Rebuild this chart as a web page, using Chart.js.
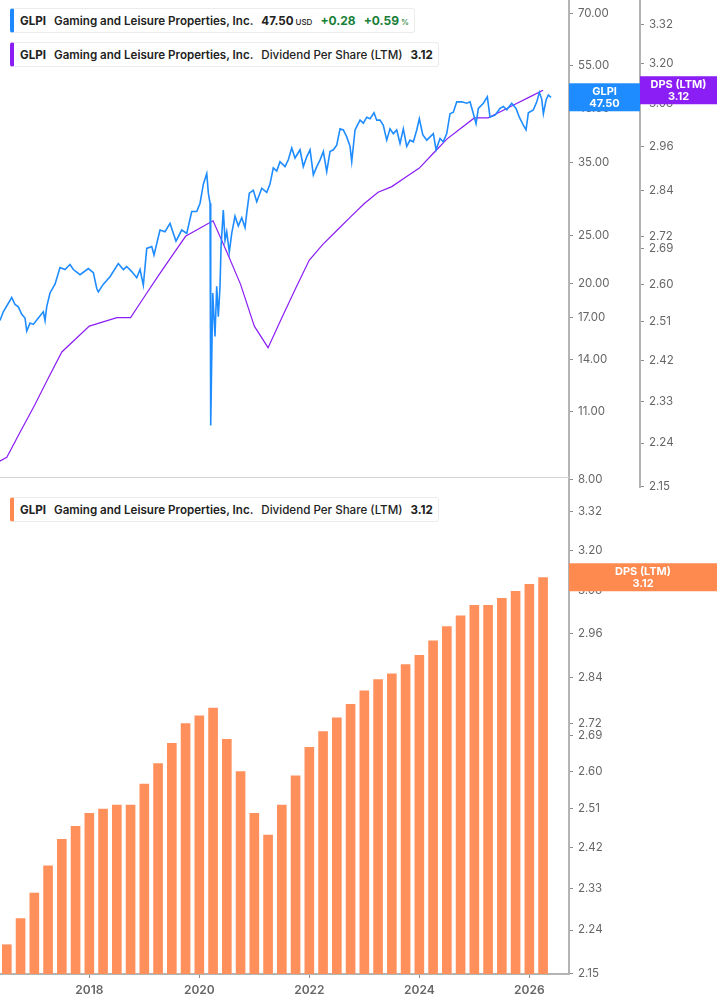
<!DOCTYPE html>
<html>
<head>
<meta charset="utf-8">
<title>GLPI - Dividend Per Share (LTM)</title>
<script src="https://cdn.jsdelivr.net/npm/chart.js@4.4.1/dist/chart.umd.min.js"></script>
<style>
  html, body { margin: 0; padding: 0; background: #fff; }
  body { width: 717px; height: 1005px; position: relative; overflow: hidden; font-family: Inter, 'Noto Sans', sans-serif; }
  canvas { position: absolute; left: 0; }
  #topChart { top: 0; }
  #bottomChart { top: 487px; }
  .sep { position: absolute; left: 0; top: 477px; width: 569px; height: 1px; background: #d4d4d4; }
  .legend {
    position: absolute; left: 10px; height: 25px; box-sizing: border-box;
    background: #fff; border: 1px solid #ececec; border-left: 4px solid; border-radius: 3px;
    display: flex; align-items: center; padding: 0 5px 0 6px;
    font-size: 11.6px; color: #222; white-space: nowrap; z-index: 2;
  }
  .legend span { margin-right: 8px; }
  .legend span:last-child { margin-right: 0; }
  .tk { font-weight: 700; }
  .nm { font-weight: 600; }
  .mt { font-weight: 500; }
  .vl { font-weight: 700; }
  .up { color: #188038; font-weight: 700; font-size: 12px; }
  small { font-size: 8px; font-weight: 500; margin-left: 2px; }
</style>
</head>
<body>

<div class="legend" style="top:8px; border-left-color:#1e88ff;">
  <span class="tk">GLPI</span>
  <span class="nm">Gaming and Leisure Properties, Inc.</span>
  <span class="vl">47.50<small>USD</small></span>
  <span class="up">+0.28</span>
  <span class="up">+0.59<small>%</small></span>
</div>
<div class="legend" style="top:42px; border-left-color:#8b1df5;">
  <span class="tk">GLPI</span>
  <span class="nm">Gaming and Leisure Properties, Inc.</span>
  <span class="mt">Dividend Per Share (LTM)</span>
  <span class="vl">3.12</span>
</div>
<div class="legend" style="top:497px; border-left-color:#ff8a4f;">
  <span class="tk">GLPI</span>
  <span class="nm">Gaming and Leisure Properties, Inc.</span>
  <span class="mt">Dividend Per Share (LTM)</span>
  <span class="vl">3.12</span>
</div>

<canvas id="topChart" width="717" height="500"></canvas>
<div class="sep"></div>
<canvas id="bottomChart" width="717" height="518"></canvas>

<script>
/* ── data ── */
// quarter ends (YYYY-MM) and LTM dividend per share
const dpsQuarters = [
  '2016-03','2016-06','2016-09','2016-12',
  '2017-03','2017-06','2017-09','2017-12',
  '2018-03','2018-06','2018-09','2018-12',
  '2019-03','2019-06','2019-09','2019-12',
  '2020-03','2020-06','2020-09','2020-12',
  '2021-03','2021-06','2021-09','2021-12',
  '2022-03','2022-06','2022-09','2022-12',
  '2023-03','2023-06','2023-09','2023-12',
  '2024-03','2024-06','2024-09','2024-12',
  '2025-03','2025-06','2025-09','2025-12',
  '2026-03'
];
const dpsValues = [
  2.195, 2.21, 2.265, 2.32,
  2.38, 2.44, 2.47, 2.50,
  2.51, 2.52, 2.52, 2.57,
  2.62, 2.67, 2.72, 2.74,
  2.76, 2.68, 2.60, 2.50,
  2.45, 2.52, 2.59, 2.66,
  2.70, 2.735, 2.77, 2.805,
  2.835, 2.85, 2.875, 2.90,
  2.94, 2.98, 3.01, 3.04,
  3.04, 3.06, 3.08, 3.10,
  3.12
];

// share price (USD), dates as decimal years
const priceYears = [
  2016.376, 2016.436, 2016.589, 2016.649, 2016.709, 2016.771, 2016.831, 2016.862, 2016.922, 2016.982,
  2017.073, 2017.164, 2017.195, 2017.225, 2017.285, 2017.376, 2017.467, 2017.558, 2017.649, 2017.709,
  2017.831, 2017.982, 2018.073, 2018.135, 2018.164, 2018.255, 2018.376, 2018.527, 2018.618, 2018.680,
  2018.771, 2018.862, 2018.922, 2018.982, 2019.044, 2019.135, 2019.176, 2019.285, 2019.376, 2019.467,
  2019.576, 2019.680, 2019.771, 2019.862, 2019.953, 2020.013, 2020.073, 2020.135, 2020.164, 2020.195,
  2020.207, 2020.244, 2020.285, 2020.316, 2020.345, 2020.376, 2020.395, 2020.436, 2020.467, 2020.498,
  2020.545, 2020.589, 2020.649, 2020.709, 2020.771, 2020.831, 2020.862, 2020.909, 2020.982, 2021.044,
  2021.135, 2021.225, 2021.285, 2021.345, 2021.407, 2021.467, 2021.558, 2021.618, 2021.680, 2021.740,
  2021.831, 2021.891, 2021.953, 2022.013, 2022.073, 2022.135, 2022.195, 2022.255, 2022.316, 2022.376,
  2022.436, 2022.498, 2022.558, 2022.618, 2022.680, 2022.740, 2022.771, 2022.831, 2022.922, 2022.982,
  2023.044, 2023.104, 2023.176, 2023.225, 2023.285, 2023.345, 2023.407, 2023.467, 2023.527, 2023.589,
  2023.649, 2023.709, 2023.771, 2023.831, 2023.891, 2023.953, 2024.000, 2024.062, 2024.135, 2024.195,
  2024.255, 2024.304, 2024.376, 2024.436, 2024.498, 2024.558, 2024.618, 2024.680, 2024.771, 2024.862,
  2024.922, 2024.982, 2025.031, 2025.073, 2025.164, 2025.236, 2025.285, 2025.376, 2025.467, 2025.527,
  2025.589, 2025.680, 2025.758, 2025.818, 2025.891, 2025.940, 2025.982, 2026.073, 2026.135, 2026.182,
  2026.225, 2026.255, 2026.304, 2026.345, 2026.395
];
const priceClose = [
  16.8, 17.5, 18.7, 18.1, 17.9, 17.3, 17.0, 16.0, 16.6, 16.5,
  17.0, 17.5, 16.8, 17.9, 19.1, 19.9, 21.5, 21.3, 21.8, 21.3,
  20.8, 21.4, 21.0, 19.5, 19.2, 19.9, 20.6, 21.9, 21.3, 21.6,
  21.1, 20.5, 21.3, 19.8, 23.5, 23.7, 22.8, 25.6, 25.4, 26.4,
  24.3, 25.6, 25.2, 27.9, 27.9, 29.0, 31.7, 33.3, 30.4, 29.0,
  10.3, 19.1, 15.6, 19.7, 17.1, 19.7, 23.7, 28.1, 24.4, 25.4,
  23.1, 25.2, 27.3, 26.1, 27.1, 25.9, 27.7, 30.4, 30.8, 29.2,
  31.1, 30.5, 31.7, 34.2, 33.7, 35.2, 34.4, 35.5, 37.5, 35.8,
  37.2, 34.4, 36.0, 37.2, 33.1, 34.4, 35.5, 36.9, 33.6, 36.9,
  37.2, 38.0, 41.0, 40.8, 39.5, 37.8, 35.2, 40.8, 42.7, 42.1,
  43.3, 43.0, 44.2, 42.7, 42.7, 41.7, 38.9, 41.0, 40.1, 40.8,
  38.3, 41.0, 37.8, 38.9, 38.6, 40.8, 43.0, 39.9, 38.9, 39.5,
  40.1, 37.2, 39.2, 38.6, 40.1, 44.0, 44.3, 46.5, 46.5, 46.2,
  46.5, 44.0, 42.0, 45.1, 46.2, 47.6, 43.3, 43.7, 45.1, 45.5,
  44.8, 46.2, 45.1, 43.3, 41.7, 40.8, 44.2, 44.8, 46.5, 48.6,
  47.1, 44.0, 46.9, 48.0, 47.50
];

const yearTicks  = [2018, 2020, 2022, 2024, 2026];
const priceTicks = [8, 11, 14, 17, 20, 25, 35, 45, 55, 70];
const dpsTicks   = [2.15, 2.24, 2.33, 2.42, 2.51, 2.60, 2.69, 2.72, 2.84, 2.96, 3.08, 3.20, 3.32];

/* ── ranges / styles ── */
const X_MIN = 2016.376, X_MAX = 2026.721;
const PRICE_MIN = 7.739, PRICE_MAX = 74.71;
const DPS_MIN = 2.1494, DPS_MAX = 3.396;

const BLUE   = '#1e8cff';
const PURPLE = '#8b1df5';
const ORANGE = '#ff905c';
const AXIS   = '#b4b4b4';

function toYear(q) {
  const [y, m] = q.split('-').map(Number);
  return y + m / 12;
}

const dpsPoints   = dpsQuarters.map((q, i) => ({ x: toYear(q), y: dpsValues[i] }));
const pricePoints = priceYears.map((x, i) => ({ x, y: priceClose[i] }));

function rightAxis(ticks, min, max, width) {
  return {
    type: 'logarithmic',
    position: 'right',
    min, max,
    afterBuildTicks: s => { s.ticks = ticks.map(v => ({ value: v })); },
    afterFit: s => { s.width = width; s.paddingTop = 0; s.paddingBottom = 0; },
    border: { color: AXIS, width: 2 },
    grid: { drawOnChartArea: false, drawTicks: true, tickLength: 4, color: '#8c8c8c', lineWidth: 1 },
    ticks: {
      autoSkip: false, padding: 5, color: '#666',
      font: { family: 'Inter', size: 11.5 },
      callback: v => Number(v).toFixed(2)
    }
  };
}

// coloured value boxes on the axes
const lastLabels = {
  id: 'lastLabels',
  afterDraw(chart, args, opts) {
    const ctx = chart.ctx;
    opts.items.forEach(it => {
      const s = chart.scales[it.axis];
      const y = s.getPixelForValue(it.value);
      const h = 28;
      ctx.save();
      ctx.fillStyle = it.color;
      ctx.fillRect(s.left, y - h / 2, s.right - s.left, h);
      ctx.fillStyle = '#fff';
      ctx.font = '700 11px Inter';
      ctx.textAlign = 'center';
      ctx.textBaseline = 'middle';
      const cx = (s.left + s.right) / 2;
      ctx.fillText(it.title, cx, y - 6);
      ctx.fillText(it.value.toFixed(2), cx, y + 6);
      ctx.restore();
    });
  }
};

/* ── top: price + DPS line ── */
new Chart(document.getElementById('topChart'), {
  type: 'line',
  data: {
    datasets: [
      { label: 'GLPI', data: pricePoints, yAxisID: 'yPrice', borderColor: BLUE, borderWidth: 1.6, pointRadius: 0, tension: 0 },
      { label: 'DPS (LTM)', data: dpsPoints, yAxisID: 'yDps', borderColor: PURPLE, borderWidth: 1.2, pointRadius: 0, tension: 0 }
    ]
  },
  options: {
    responsive: false,
    animation: false,
    layout: { padding: { left: 0, right: 0, top: 0, bottom: 13 } },
    plugins: {
      legend: { display: false },
      tooltip: { enabled: false },
      lastLabels: { items: [
        { axis: 'yPrice', value: priceClose[priceClose.length - 1], title: 'GLPI', color: BLUE },
        { axis: 'yDps', value: dpsValues[dpsValues.length - 1], title: 'DPS (LTM)', color: PURPLE }
      ] }
    },
    scales: {
      x: { type: 'linear', min: X_MIN, max: X_MAX, display: false },
      yPrice: rightAxis(priceTicks, PRICE_MIN, PRICE_MAX, 71),
      yDps: rightAxis(dpsTicks, DPS_MIN, DPS_MAX, 77)
    }
  },
  plugins: [lastLabels]
});

/* ── bottom: DPS bars ── */
new Chart(document.getElementById('bottomChart'), {
  type: 'bar',
  data: {
    datasets: [{
      label: 'DPS (LTM)',
      data: dpsPoints,
      backgroundColor: ORANGE,
      categoryPercentage: 0.9,
      barPercentage: 0.78
    }]
  },
  options: {
    responsive: false,
    animation: false,
    layout: { padding: 0 },
    plugins: {
      legend: { display: false },
      tooltip: { enabled: false },
      lastLabels: { items: [
        { axis: 'y', value: dpsValues[dpsValues.length - 1], title: 'DPS (LTM)', color: '#ff8a4f' }
      ] }
    },
    scales: {
      x: {
        type: 'linear', min: X_MIN, max: X_MAX, offset: false,
        afterBuildTicks: s => { s.ticks = yearTicks.map(v => ({ value: v })); },
        afterFit: s => { s.height = 31; s.paddingLeft = 0; s.paddingRight = 0; },
        border: { color: AXIS, width: 2 },
        grid: { drawOnChartArea: false, offset: false, tickLength: 4, color: '#8c8c8c' },
        ticks: {
          autoSkip: false, maxRotation: 0, padding: 5, color: '#666',
          font: { family: 'Inter', size: 12, weight: '600' },
          callback: v => String(v)
        }
      },
      y: rightAxis(dpsTicks, DPS_MIN, DPS_MAX, 148)
    }
  },
  plugins: [lastLabels]
});
</script>
</body>
</html>
